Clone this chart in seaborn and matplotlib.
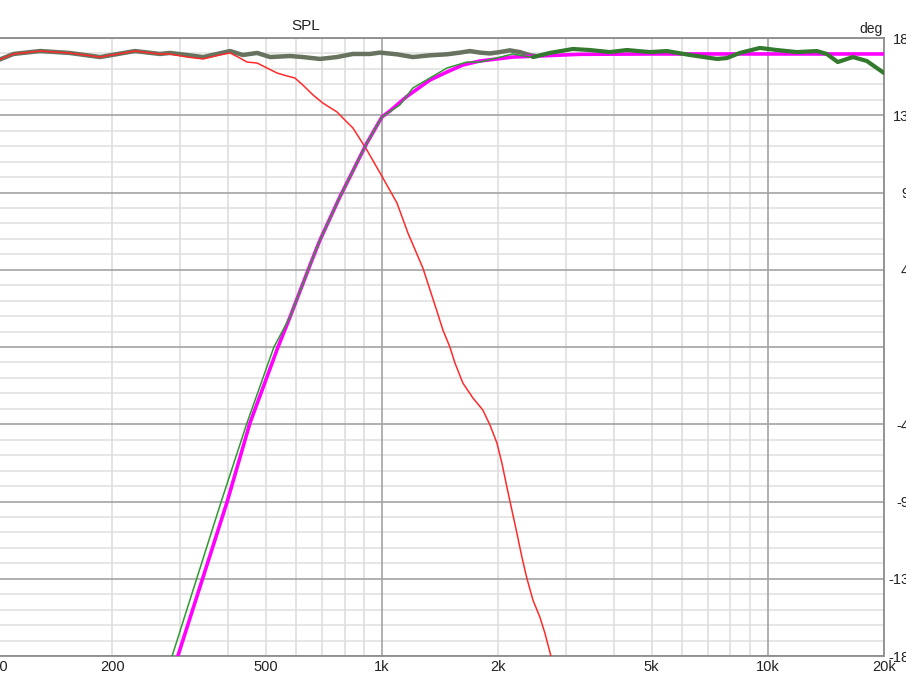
import numpy as np
import pandas as pd
import matplotlib
matplotlib.use("Agg")
import matplotlib.pyplot as plt
import seaborn as sns

# summed response (deg)
sum_freq = [100, 111, 130, 155, 186, 229, 266, 282, 313, 344, 374, 404, 436, 475, 513,
            578, 624, 691, 765, 841, 931, 988, 1094, 1203, 1331, 1474, 1595, 1690, 1794,
            1905, 2022, 2146, 2278, 2417, 2515]
sum_deg = [166.6, 170.7, 172.4, 171.3, 168.9, 172.4, 170.7, 171.3, 170.1, 168.9, 170.7,
           172.4, 170.1, 171.3, 168.9, 169.5, 168.9, 167.8, 168.9, 170.7, 170.7, 171.5,
           170.5, 168.9, 169.9, 170.5, 171.5, 172.4, 171.5, 171.0, 171.8, 172.8, 171.8,
           170.0, 169.4]

# low-pass branch (red)
lp_freq = [100, 111, 130, 155, 186, 229, 266, 282, 313, 344, 380, 404, 429, 447, 475,
           504, 535, 567, 595, 624, 663, 703, 765, 802, 841, 914, 1000, 1094, 1168, 1277,
           1388, 1439, 1500, 1546, 1621, 1721, 1826, 1905, 1986, 2046, 2108, 2171, 2237,
           2305, 2374, 2462, 2566, 2644, 2741, 2850]
lp_deg = [166.6, 170.7, 172.4, 171.3, 168.9, 172.4, 170.7, 170.7, 168.9, 167.8, 170.1,
          171.3, 168.3, 166.0, 165.4, 162.5, 159.6, 157.9, 156.7, 152.6, 146.8, 142.1,
          136.9, 132.2, 127.6, 114.8, 99.5, 83.9, 66.4, 46.0, 21.0, 9.9, 0.0, -9.3, -21.0,
          -29.7, -36.7, -45.4, -55.9, -67.6, -81.6, -94.9, -108.3, -122.3, -134.6, -147.4,
          -157.3, -166.6, -180.0, -195.0]

# high-pass branch, measured (green)
hp_freq = [265, 286, 383, 447, 525, 578, 659, 691, 778, 914, 1000, 1113, 1203, 1474,
           1660, 1794, 1939, 2185, 2417, 2462, 2724, 3125, 3458, 3896, 4312, 4947, 5474,
           6281, 7379, 7830, 8463, 9535, 10550, 11890, 13400, 14210, 15180, 16610, 18050,
           20000]
hp_deg = [-215.0, -180.0, -90.3, -44.3, 0.0, 17.5, 50.7, 62.3, 87.4, 118.8, 134.0, 141.0,
          150.9, 162.5, 166.0, 166.0, 167.8, 170.7, 168.9, 168.9, 171.3, 173.6, 173.0,
          171.8, 173.0, 171.8, 172.4, 170.1, 167.8, 168.3, 171.3, 174.2, 173.0, 171.8,
          172.4, 170.7, 166.0, 168.9, 166.6, 159.6]

# high-pass target (magenta)
tgt_freq = [270, 296, 397, 455, 538, 578, 659, 691, 778, 914, 1000, 1049, 1161, 1331,
            1474, 1621, 1794, 2185, 3258, 5000, 20000]
tgt_deg = [-215.0, -180.0, -90.3, -44.3, 0.0, 17.5, 50.7, 62.3, 87.4, 118.8, 134.0, 137.5,
           146.0, 155.5, 160.2, 164.3, 166.6, 168.9, 170.5, 170.7, 170.7]

xtick_vals = [100, 200, 500, 1000, 2000, 5000, 10000, 20000]
xtick_labels = ["100", "200", "500", "1k", "2k", "5k", "10k", "20k"]
ytick_vals = [180, 135, 90, 45, 0, -45, -90, -135, -180]

sns.set_style("white")
plt.rcParams['font.family'] = ['Liberation Sans', 'DejaVu Sans']

fig = plt.figure(figsize=(9.06, 6.84), dpi=100)
ax = fig.add_axes([-4 / 906, 28 / 684, 888 / 906, 618 / 684])
ax.set_xscale("log")
ax.set_xlim(100, 20000)
ax.set_ylim(-180, 180)

# grid
for d in range(-180, 181, 9):
    if d % 45:
        ax.axhline(d, color="#e2e2e2", lw=1.2, zorder=0)
for dec in [100, 1000, 10000]:
    for m in range(2, 10):
        if dec * m <= 20000:
            ax.axvline(dec * m, color="#dedede", lw=1.2, zorder=0)
for d in ytick_vals:
    ax.axhline(d, color="#a3a3a3", lw=1.2, zorder=0.5)
for v in [100, 1000, 10000]:
    ax.axvline(v, color="#a3a3a3", lw=1.2, zorder=0.5)

s = pd.DataFrame({"f": sum_freq, "d": sum_deg})
lp = pd.DataFrame({"f": lp_freq, "d": lp_deg})
hp = pd.DataFrame({"f": hp_freq, "d": hp_deg})
tg = pd.DataFrame({"f": tgt_freq, "d": tgt_deg})

sns.lineplot(data=s, x="f", y="d", ax=ax, color="#68735f", lw=3.2, zorder=2)
sns.lineplot(data=lp, x="f", y="d", ax=ax, color="#ff2a2a", lw=1.1, zorder=3)
sns.lineplot(data=tg, x="f", y="d", ax=ax, color="#ff00ff", lw=2.6, zorder=3)
sns.lineplot(data=hp, x="f", y="d", ax=ax, color="#2f9a2f", lw=1.1, zorder=4)
sns.lineplot(data=hp[hp.f >= 2462], x="f", y="d", ax=ax, color="#347a2e", lw=3.0, zorder=4)

ax.set_xlabel("")
ax.set_ylabel("")
ax.set_xticks(xtick_vals)
ax.set_xticklabels(xtick_labels)
ax.minorticks_off()
ax.set_yticks(ytick_vals)
ax.set_yticklabels([str(v) for v in ytick_vals])
ax.tick_params(axis="x", length=0, pad=3, labelsize=10.5, colors="#222222")
ax.tick_params(axis="y", length=0, pad=24, labelsize=10.5, colors="#222222",
               labelright=True, labelleft=False)
for lbl in ax.get_yticklabels():
    lbl.set_horizontalalignment("right")

for side in ["top", "bottom", "right"]:
    ax.spines[side].set_color("#8c8c8c")
    ax.spines[side].set_linewidth(1.3)
ax.spines["left"].set_visible(False)

fig.text(306 / 906, 1 - 26 / 684, "SPL", ha="center", va="center", fontsize=11, color="#222222")
fig.text(883 / 906, 1 - 29 / 684, "deg", ha="right", va="center", fontsize=10, color="#222222")

fig.savefig("out.png", dpi=100)
